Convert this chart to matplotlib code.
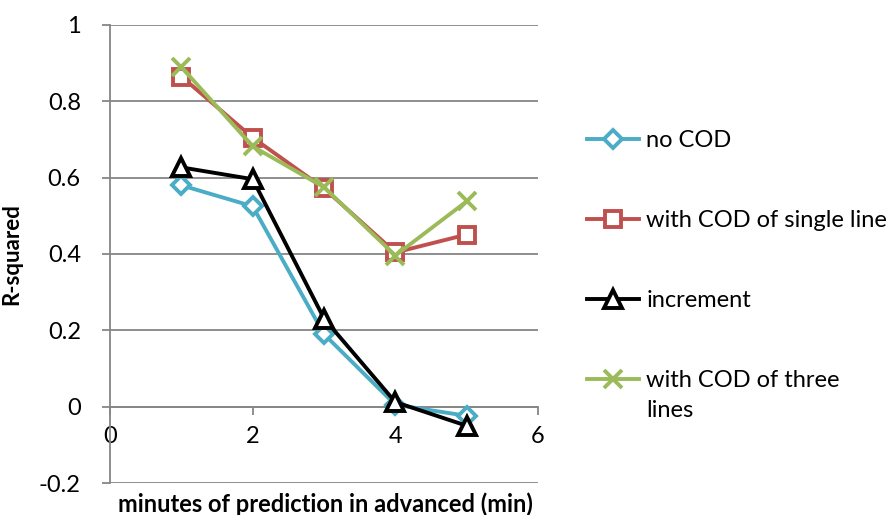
import matplotlib.pyplot as plt

plt.rcParams['font.family'] = ['Lato', 'DejaVu Sans']

# data
minutes = [1, 2, 3, 4, 5]
no_cod = [0.58, 0.525, 0.19, 0.005, -0.024]
cod_single = [0.865, 0.705, 0.572, 0.404, 0.451]
increment = [0.627, 0.596, 0.231, 0.012, -0.05]
cod_three = [0.89, 0.682, 0.575, 0.396, 0.538]

labels = ['no COD', 'with COD of single line', 'increment',
          'with COD of three\nlines']
colors = ['#4BACC6', '#C0504D', '#000000', '#9BBB59']
markers = ['D', 's', '^', 'x']
sizes = [9.5, 12, 12.5, 13]

y_ticks = [-0.2, 0, 0.2, 0.4, 0.6, 0.8, 1]
y_ticklabels = ['-0.2', '0', '0.2', '0.4', '0.6', '0.8', '1']
x_ticks = [0, 2, 4, 6]

grid_col = '#868686'

fig = plt.figure(figsize=(8.89, 5.15), dpi=100)
ax = fig.add_axes([110/889, 1 - 483/515, 428/889, 458/515])

series = [no_cod, cod_single, increment, cod_three]
for i, vals in enumerate(series):
    face = 'white' if markers[i] != 'x' else colors[i]
    ax.plot(minutes, vals, color=colors[i], lw=2.8, marker=markers[i],
            markersize=sizes[i], markerfacecolor=face,
            markeredgecolor=colors[i], markeredgewidth=2.8,
            label=labels[i].split('\n')[0], zorder=3 + i)

ax.set_xlim(0, 6)
ax.set_ylim(-0.2, 1)
ax.set_xticks(x_ticks)
ax.set_yticks(y_ticks)
ax.set_yticklabels(y_ticklabels)
ax.yaxis.grid(True, color=grid_col, lw=1.3)
ax.set_axisbelow(True)

ax.spines['top'].set_visible(False)
ax.spines['right'].set_visible(False)
ax.spines['bottom'].set_position(('data', 0))
for s in ['left', 'bottom']:
    ax.spines[s].set_color(grid_col)
    ax.spines[s].set_linewidth(1.3)

ax.tick_params(axis='both', colors=grid_col, labelcolor='black',
               labelsize=17, width=1.3, length=6)
ax.tick_params(axis='x', pad=8)
ax.tick_params(axis='y', pad=15)

ax.set_ylabel('R-squared', fontsize=16, fontweight='bold')
ax.yaxis.set_label_coords(-0.205, 0.5)
fig.text(325/889, 1 - 504/515, 'minutes of prediction in advanced (min)',
         ha='center', va='center', fontsize=17, fontweight='bold')

leg = fig.legend(loc='upper left', bbox_to_anchor=(566/889, 1 - 109/515),
                 frameon=False, fontsize=17, handlelength=2.2,
                 handletextpad=0.3, labelspacing=2.5)

# second line of the last legend label, under its first line
fig.canvas.draw()
last = leg.get_texts()[-1]
bb = last.get_window_extent().transformed(fig.transFigure.inverted())
fig.text(bb.x0, bb.y0 - 30/515, labels[-1].split('\n')[1],
         fontsize=17, ha='left', va='bottom')

fig.savefig('out.png', dpi=100)
